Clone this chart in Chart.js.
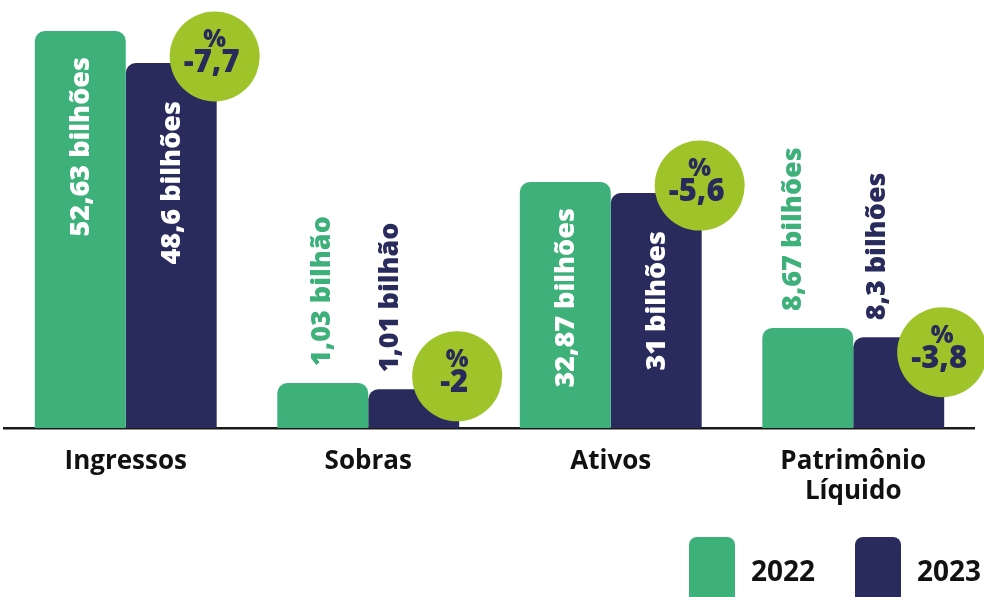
<!DOCTYPE html>
<html>
<head>
<meta charset="utf-8">
<script src="https://cdn.jsdelivr.net/npm/chart.js@4.4.1/dist/chart.umd.min.js"></script>
<style>
  html, body { margin: 0; padding: 0; background: #ffffff; }
  #wrap { width: 984px; height: 597px; position: relative; }
</style>
</head>
<body>
<div id="wrap"><canvas id="c" width="984" height="597"></canvas></div>
<script>
// ---- data ----
const categories = [['Ingressos'], ['Sobras'], ['Ativos'], ['Patrimônio', 'Líquido']];
const seriesNames = ['2022', '2023'];
// stated values (billions of R$)
const values2022 = [52.63, 1.03, 32.87, 8.67];
const values2023 = [48.6, 1.01, 31, 8.3];
// bar heights as drawn in the picture (small values are drawn taller than scale)
const drawn2022 = [52.63, 5.97, 32.6, 13.27];
const drawn2023 = [48.39, 5.13, 31.14, 12.03];
// value labels
const labels2022 = ['52,63 bilhões', '1,03 bilhão', '32,87 bilhões', '8,67 bilhões'];
const labels2023 = ['48,6 bilhões', '1,01 bilhão', '31 bilhões', '8,3 bilhões'];
// percentage change badges
const changePct = ['-7,7', '-2', '-5,6', '-3,8'];

// ---- styles / layout ----
const GREEN = '#3EB17B';
const NAVY = '#292B5D';
const LIME = '#9FC42A';
const FONT = "'Open Sans', 'Noto Sans', sans-serif";
const insideLabel = [true, false, true, false];
const outsideShift = [[0, 0], [-1, -24], [0, 0], [-15, -22]];
const badgeDy = [-6.5, -13, -7.5, 15];

const valueLabelPlugin = {
  id: 'valueLabels',
  afterDatasetsDraw(chart) {
    const ctx = chart.ctx;
    const texts = [labels2022, labels2023];
    const colors = [GREEN, NAVY];
    const insideGap = [26, 38];
    chart.data.datasets.forEach((ds, di) => {
      const meta = chart.getDatasetMeta(di);
      meta.data.forEach((bar, i) => {
        ctx.save();
        ctx.font = '800 27px ' + FONT;
        ctx.textBaseline = 'middle';
        if (insideLabel[i]) {
          ctx.fillStyle = '#ffffff';
          ctx.translate(bar.x, bar.y + insideGap[di]);
          ctx.rotate(-Math.PI / 2);
          ctx.textAlign = 'right';
        } else {
          ctx.fillStyle = colors[di];
          ctx.translate(bar.x + outsideShift[i][di], bar.y - 17);
          ctx.rotate(-Math.PI / 2);
          ctx.textAlign = 'left';
        }
        ctx.fillText(texts[di][i], 0, 1);
        ctx.restore();
      });
    });
    // badges
    const meta1 = chart.getDatasetMeta(1);
    meta1.data.forEach((bar, i) => {
      const cx = bar.x + bar.width / 2 - 2;
      const cy = bar.y + badgeDy[i];
      ctx.save();
      ctx.beginPath();
      ctx.arc(cx, cy, 45, 0, Math.PI * 2);
      ctx.fillStyle = LIME;
      ctx.fill();
      ctx.fillStyle = '#272A5B';
      ctx.textAlign = 'center';
      ctx.textBaseline = 'middle';
      ctx.font = '800 24px ' + FONT;
      ctx.fillText('%', cx, cy - 16);
      ctx.font = '800 31px ' + FONT;
      ctx.fillText(changePct[i], cx - 3, cy + 7);
      ctx.restore();
    });
  }
};

const legendPlugin = {
  id: 'customLegend',
  afterDraw(chart) {
    const ctx = chart.ctx;
    const items = [
      { x: 689, color: GREEN, text: seriesNames[0] },
      { x: 855, color: NAVY, text: seriesNames[1] }
    ];
    items.forEach(it => {
      ctx.save();
      ctx.beginPath();
      ctx.roundRect(it.x, 537, 46, 70, 8);
      ctx.fillStyle = it.color;
      ctx.fill();
      ctx.fillStyle = '#111111';
      ctx.font = 'bold 28px ' + FONT;
      ctx.textAlign = 'left';
      ctx.textBaseline = 'alphabetic';
      ctx.fillText(it.text, it.x + 62, 581);
      ctx.restore();
    });
  }
};

new Chart(document.getElementById('c'), {
  type: 'bar',
  data: {
    labels: categories,
    datasets: [
      { label: seriesNames[0], data: drawn2022, backgroundColor: GREEN,
        borderRadius: { topLeft: 10, topRight: 10, bottomLeft: 0, bottomRight: 0 }, borderSkipped: false },
      { label: seriesNames[1], data: drawn2023, backgroundColor: NAVY,
        borderRadius: { topLeft: 10, topRight: 10, bottomLeft: 0, bottomRight: 0 }, borderSkipped: false }
    ]
  },
  options: {
    responsive: false,
    devicePixelRatio: 1,
    animation: false,
    layout: { padding: { left: 4.5, right: 9.5, top: 0, bottom: 0 } },
    datasets: { bar: { categoryPercentage: 0.75, barPercentage: 1.0 } },
    plugins: { legend: { display: false }, tooltip: { enabled: false } },
    scales: {
      x: {
        grid: { display: false, drawTicks: false },
        border: { display: true, color: '#1a1a1a', width: 2.5 },
        ticks: {
          font: { family: FONT, size: 26, weight: 'bold', lineHeight: 1.15 },
          color: '#111111', padding: 19, maxRotation: 0, autoSkip: false
        },
        afterFit(scale) { scale.height = 169; }
      },
      y: { display: false, min: 0, max: 56.74 }
    }
  },
  plugins: [valueLabelPlugin, legendPlugin]
});
</script>
</body>
</html>
